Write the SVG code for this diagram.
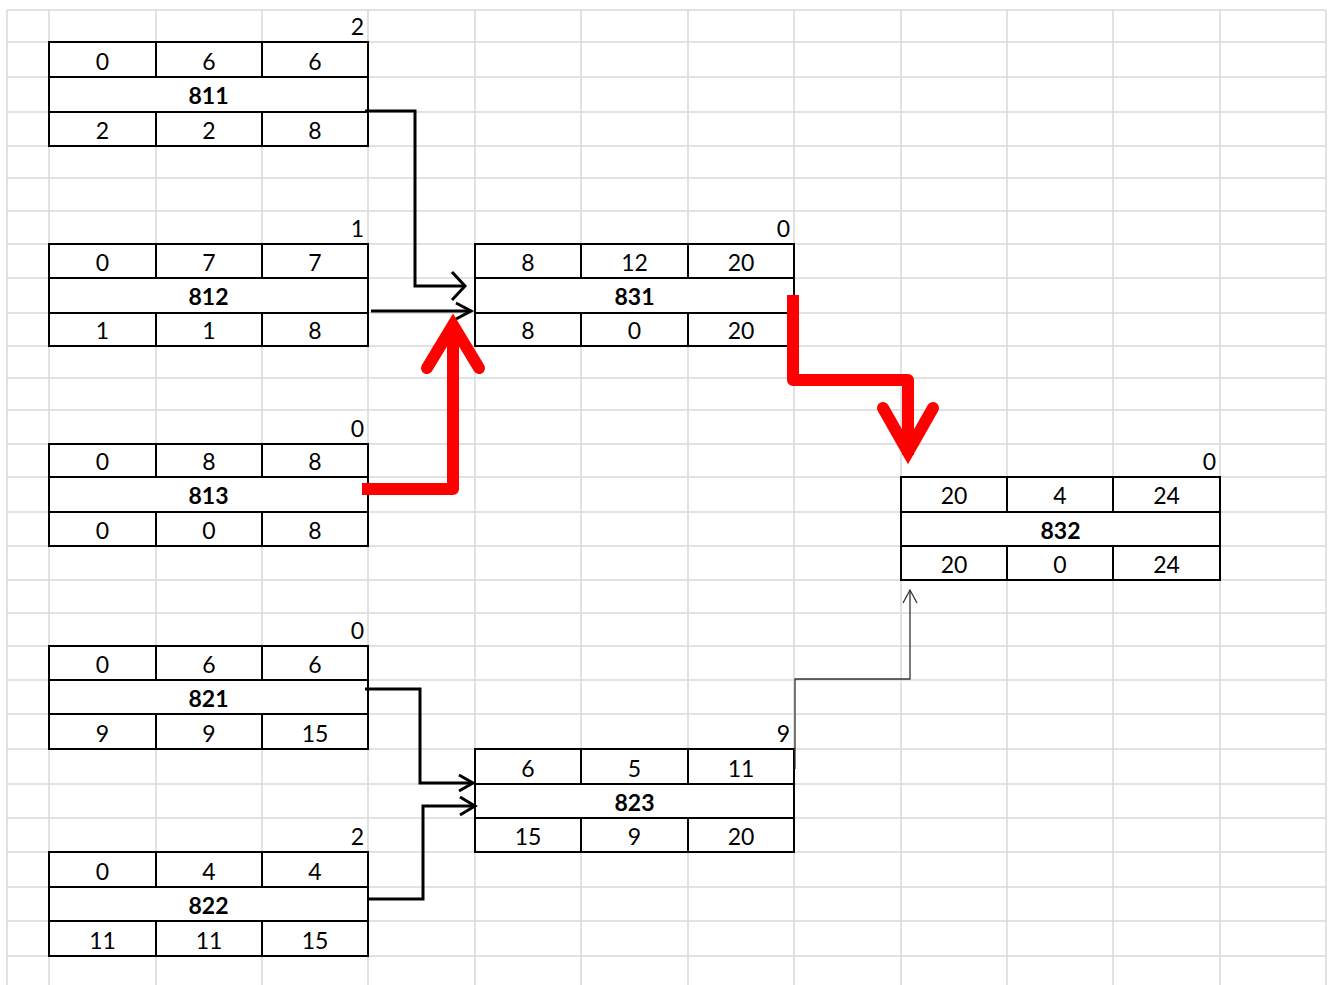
<svg xmlns="http://www.w3.org/2000/svg" width="1332" height="985" viewBox="0 0 1332 985">
<style>
.grid line{stroke:#d9d9d9;stroke-width:1.5}
.box{fill:#fff;stroke:#000;stroke-width:2}
.nl{stroke:#000;stroke-width:2}
text{font-family:Lato,"Liberation Sans",sans-serif;font-size:23px;fill:#000}
.c{text-anchor:middle}
.b{font-weight:bold}
.lab{text-anchor:end}
.blk{fill:none;stroke:#000;stroke-width:3;stroke-linejoin:miter}
.red{fill:none;stroke:#ff0000;stroke-width:12;stroke-linejoin:round}
.redh{fill:none;stroke:#ff0000;stroke-width:12;stroke-linejoin:miter;stroke-linecap:round}
.thin{fill:none;stroke:#333;stroke-width:1.3}
</style>
<rect width="1332" height="985" fill="#fff"/>
<g class="grid">
<line x1="7" y1="10" x2="1326" y2="10"/><line x1="7" y1="42" x2="1326" y2="42"/><line x1="7" y1="77" x2="1326" y2="77"/><line x1="7" y1="112" x2="1326" y2="112"/><line x1="7" y1="146" x2="1326" y2="146"/><line x1="7" y1="178" x2="1326" y2="178"/><line x1="7" y1="211" x2="1326" y2="211"/><line x1="7" y1="244" x2="1326" y2="244"/><line x1="7" y1="278" x2="1326" y2="278"/><line x1="7" y1="313" x2="1326" y2="313"/><line x1="7" y1="346" x2="1326" y2="346"/><line x1="7" y1="378" x2="1326" y2="378"/><line x1="7" y1="410" x2="1326" y2="410"/><line x1="7" y1="444" x2="1326" y2="444"/><line x1="7" y1="477" x2="1326" y2="477"/><line x1="7" y1="512" x2="1326" y2="512"/><line x1="7" y1="546" x2="1326" y2="546"/><line x1="7" y1="580" x2="1326" y2="580"/><line x1="7" y1="613" x2="1326" y2="613"/><line x1="7" y1="646" x2="1326" y2="646"/><line x1="7" y1="680" x2="1326" y2="680"/><line x1="7" y1="714" x2="1326" y2="714"/><line x1="7" y1="749" x2="1326" y2="749"/><line x1="7" y1="784" x2="1326" y2="784"/><line x1="7" y1="818" x2="1326" y2="818"/><line x1="7" y1="852" x2="1326" y2="852"/><line x1="7" y1="887" x2="1326" y2="887"/><line x1="7" y1="921" x2="1326" y2="921"/><line x1="7" y1="956" x2="1326" y2="956"/>
<line x1="7" y1="10" x2="7" y2="985"/><line x1="49" y1="10" x2="49" y2="985"/><line x1="156" y1="10" x2="156" y2="985"/><line x1="262" y1="10" x2="262" y2="985"/><line x1="368" y1="10" x2="368" y2="985"/><line x1="475" y1="10" x2="475" y2="985"/><line x1="581" y1="10" x2="581" y2="985"/><line x1="688" y1="10" x2="688" y2="985"/><line x1="794" y1="10" x2="794" y2="985"/><line x1="901" y1="10" x2="901" y2="985"/><line x1="1007" y1="10" x2="1007" y2="985"/><line x1="1113" y1="10" x2="1113" y2="985"/><line x1="1220" y1="10" x2="1220" y2="985"/><line x1="1326" y1="10" x2="1326" y2="985"/>
</g>

<g id="n811">
<rect class="box" x="49" y="42" width="319" height="104"/>
<line class="nl" x1="49" y1="77" x2="368" y2="77"/><line class="nl" x1="49" y1="112" x2="368" y2="112"/>
<line class="nl" x1="156" y1="42" x2="156" y2="77"/><line class="nl" x1="262" y1="42" x2="262" y2="77"/>
<line class="nl" x1="156" y1="112" x2="156" y2="146"/><line class="nl" x1="262" y1="112" x2="262" y2="146"/>
<text class="c" x="102.5" y="70">0</text><text class="c" x="209" y="70">6</text><text class="c" x="315" y="70">6</text>
<text class="c b" x="208.5" y="104">811</text>
<text class="c" x="102.5" y="139">2</text><text class="c" x="209" y="139">2</text><text class="c" x="315" y="139">8</text>
<text class="lab" x="364" y="35">2</text>
</g>

<g id="n812">
<rect class="box" x="49" y="244" width="319" height="102"/>
<line class="nl" x1="49" y1="278" x2="368" y2="278"/><line class="nl" x1="49" y1="313" x2="368" y2="313"/>
<line class="nl" x1="156" y1="244" x2="156" y2="278"/><line class="nl" x1="262" y1="244" x2="262" y2="278"/>
<line class="nl" x1="156" y1="313" x2="156" y2="346"/><line class="nl" x1="262" y1="313" x2="262" y2="346"/>
<text class="c" x="102.5" y="271">0</text><text class="c" x="209" y="271">7</text><text class="c" x="315" y="271">7</text>
<text class="c b" x="208.5" y="305">812</text>
<text class="c" x="102.5" y="339">1</text><text class="c" x="209" y="339">1</text><text class="c" x="315" y="339">8</text>
<text class="lab" x="364" y="237">1</text>
</g>

<g id="n813">
<rect class="box" x="49" y="444" width="319" height="102"/>
<line class="nl" x1="49" y1="477" x2="368" y2="477"/><line class="nl" x1="49" y1="512" x2="368" y2="512"/>
<line class="nl" x1="156" y1="444" x2="156" y2="477"/><line class="nl" x1="262" y1="444" x2="262" y2="477"/>
<line class="nl" x1="156" y1="512" x2="156" y2="546"/><line class="nl" x1="262" y1="512" x2="262" y2="546"/>
<text class="c" x="102.5" y="470">0</text><text class="c" x="209" y="470">8</text><text class="c" x="315" y="470">8</text>
<text class="c b" x="208.5" y="504">813</text>
<text class="c" x="102.5" y="539">0</text><text class="c" x="209" y="539">0</text><text class="c" x="315" y="539">8</text>
<text class="lab" x="364" y="437">0</text>
</g>

<g id="n821">
<rect class="box" x="49" y="646" width="319" height="103"/>
<line class="nl" x1="49" y1="680" x2="368" y2="680"/><line class="nl" x1="49" y1="714" x2="368" y2="714"/>
<line class="nl" x1="156" y1="646" x2="156" y2="680"/><line class="nl" x1="262" y1="646" x2="262" y2="680"/>
<line class="nl" x1="156" y1="714" x2="156" y2="749"/><line class="nl" x1="262" y1="714" x2="262" y2="749"/>
<text class="c" x="102.5" y="673">0</text><text class="c" x="209" y="673">6</text><text class="c" x="315" y="673">6</text>
<text class="c b" x="208.5" y="707">821</text>
<text class="c" x="102.5" y="742">9</text><text class="c" x="209" y="742">9</text><text class="c" x="315" y="742">15</text>
<text class="lab" x="364" y="639">0</text>
</g>

<g id="n822">
<rect class="box" x="49" y="852" width="319" height="104"/>
<line class="nl" x1="49" y1="887" x2="368" y2="887"/><line class="nl" x1="49" y1="921" x2="368" y2="921"/>
<line class="nl" x1="156" y1="852" x2="156" y2="887"/><line class="nl" x1="262" y1="852" x2="262" y2="887"/>
<line class="nl" x1="156" y1="921" x2="156" y2="956"/><line class="nl" x1="262" y1="921" x2="262" y2="956"/>
<text class="c" x="102.5" y="880">0</text><text class="c" x="209" y="880">4</text><text class="c" x="315" y="880">4</text>
<text class="c b" x="208.5" y="914">822</text>
<text class="c" x="102.5" y="949">11</text><text class="c" x="209" y="949">11</text><text class="c" x="315" y="949">15</text>
<text class="lab" x="364" y="845">2</text>
</g>

<g id="n831">
<rect class="box" x="475" y="244" width="319" height="102"/>
<line class="nl" x1="475" y1="278" x2="794" y2="278"/><line class="nl" x1="475" y1="313" x2="794" y2="313"/>
<line class="nl" x1="581" y1="244" x2="581" y2="278"/><line class="nl" x1="688" y1="244" x2="688" y2="278"/>
<line class="nl" x1="581" y1="313" x2="581" y2="346"/><line class="nl" x1="688" y1="313" x2="688" y2="346"/>
<text class="c" x="528" y="271">8</text><text class="c" x="634.5" y="271">12</text><text class="c" x="741" y="271">20</text>
<text class="c b" x="634.5" y="305">831</text>
<text class="c" x="528" y="339">8</text><text class="c" x="634.5" y="339">0</text><text class="c" x="741" y="339">20</text>
<text class="lab" x="790" y="237">0</text>
</g>

<g id="n823">
<rect class="box" x="475" y="749" width="319" height="103"/>
<line class="nl" x1="475" y1="784" x2="794" y2="784"/><line class="nl" x1="475" y1="818" x2="794" y2="818"/>
<line class="nl" x1="581" y1="749" x2="581" y2="784"/><line class="nl" x1="688" y1="749" x2="688" y2="784"/>
<line class="nl" x1="581" y1="818" x2="581" y2="852"/><line class="nl" x1="688" y1="818" x2="688" y2="852"/>
<text class="c" x="528" y="777">6</text><text class="c" x="634.5" y="777">5</text><text class="c" x="741" y="777">11</text>
<text class="c b" x="634.5" y="811">823</text>
<text class="c" x="528" y="845">15</text><text class="c" x="634.5" y="845">9</text><text class="c" x="741" y="845">20</text>
<text class="lab" x="790" y="742">9</text>
</g>

<g id="n832">
<rect class="box" x="901" y="477" width="319" height="103"/>
<line class="nl" x1="901" y1="512" x2="1220" y2="512"/><line class="nl" x1="901" y1="546" x2="1220" y2="546"/>
<line class="nl" x1="1007" y1="477" x2="1007" y2="512"/><line class="nl" x1="1113" y1="477" x2="1113" y2="512"/>
<line class="nl" x1="1007" y1="546" x2="1007" y2="580"/><line class="nl" x1="1113" y1="546" x2="1113" y2="580"/>
<text class="c" x="954" y="504">20</text><text class="c" x="1060" y="504">4</text><text class="c" x="1166.5" y="504">24</text>
<text class="c b" x="1060.5" y="539">832</text>
<text class="c" x="954" y="573">20</text><text class="c" x="1060" y="573">0</text><text class="c" x="1166.5" y="573">24</text>
<text class="lab" x="1216" y="470">0</text>
</g>

<g id="connectors">
<polyline class="blk" points="365,111 415,111 415,286 464,286"/>
<polyline class="blk" points="452,272 465,286 452,300"/>
<polyline class="blk" points="371,311 471,311"/>
<polyline class="blk" points="456,303 471,311 456,319"/>
<polyline class="blk" points="365,689 420,689 420,783 472,783"/>
<polyline class="blk" points="459,775 473,783 459,791"/>
<polyline class="blk" points="368,899 423,899 423,806 474,806"/>
<polyline class="blk" points="460,797 475,806 460,815"/>
<polyline class="thin" points="795,769 795,679 910,679 910,590"/>
<polyline class="thin" points="903,603 910,590 917,603"/>
<polyline class="red" points="362,489 453,489 453,330"/>
<polyline class="redh" points="427,368 453,325 479,368"/>
<polyline class="red" points="793,295 793,380 908,380 908,455"/>
<polyline class="redh" points="883,408 908,452 933,408"/>
</g>
</svg>
